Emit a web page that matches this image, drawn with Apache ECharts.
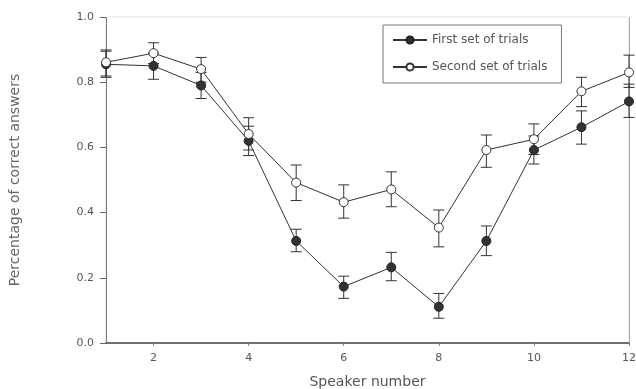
<!DOCTYPE html>
<html>
<head>
<meta charset="utf-8">
<script src="https://cdn.jsdelivr.net/npm/echarts@6/dist/echarts.min.js"></script>
<style>html,body{margin:0;padding:0;background:#fff;}#c{width:636px;height:389px;}</style>
</head>
<body>
<div id="c"></div>
<script>
const speakers = [1,2,3,4,5,6,7,8,9,10,11,12];
const xTicks = [2,4,6,8,10,12];
const first = [0.855,0.85,0.79,0.62,0.313,0.173,0.232,0.111,0.313,0.592,0.662,0.741];
const firstLow = [0.815,0.809,0.75,0.575,0.28,0.137,0.191,0.076,0.268,0.549,0.61,0.692];
const firstHigh = [0.895,0.89,0.83,0.665,0.349,0.205,0.278,0.152,0.359,0.635,0.712,0.794];
const second = [0.861,0.889,0.840,0.641,0.492,0.432,0.471,0.354,0.592,0.625,0.772,0.830];
const secondLow = [0.819,0.857,0.80,0.592,0.437,0.383,0.418,0.295,0.539,0.578,0.725,0.784];
const secondHigh = [0.899,0.921,0.876,0.691,0.546,0.485,0.525,0.408,0.638,0.672,0.815,0.883];
const names = ['First set of trials','Second set of trials'];

const FONT = 'DejaVu Sans';
const TXT = '#555';
const LINE = '#333';

function errData(low, high){ return speakers.map((x,i)=>[x, low[i], high[i]]); }
function renderErr(params, api){
  const x = api.value(0);
  const lo = api.coord([x, api.value(1)]);
  const hi = api.coord([x, api.value(2)]);
  const w = 5.5;
  const st = {stroke: LINE, lineWidth: 1};
  return {type:'group', children:[
    {type:'line', shape:{x1:lo[0],y1:lo[1],x2:hi[0],y2:hi[1]}, style:st},
    {type:'line', shape:{x1:lo[0]-w,y1:lo[1],x2:lo[0]+w,y2:lo[1]}, style:st},
    {type:'line', shape:{x1:hi[0]-w,y1:hi[1],x2:hi[0]+w,y2:hi[1]}, style:st}
  ]};
}

const chart = echarts.init(document.getElementById('c'), null, {renderer:'canvas'});
chart.setOption({
  animation:false,
  backgroundColor:'#fff',
  textStyle:{fontFamily:FONT},
  grid:{left:106, right:7, top:17, bottom:46, containLabel:false, outerBoundsMode:'none',
        show:true, borderColor:'#e4e4e4', borderWidth:1},
  legend:{
    data:names, orient:'vertical', left:383, top:25,
    padding:[9,14,10,9], itemGap:15, itemWidth:34, itemHeight:9,
    borderColor:'#777', borderWidth:1, backgroundColor:'#fff',
    textStyle:{fontFamily:FONT, fontSize:12, color:TXT}
  },
  xAxis:{
    type:'value', min:1, max:12,
    name:'Speaker number', nameLocation:'middle', nameGap:32,
    nameTextStyle:{fontFamily:FONT, fontSize:14, color:TXT},
    axisLine:{show:true, lineStyle:{color:'#444', width:1.5}},
    axisTick:{show:true, inside:false, length:3, customValues:xTicks, lineStyle:{color:'#888'}},
    axisLabel:{customValues:xTicks, margin:10, fontFamily:FONT, fontSize:11, color:TXT},
    splitLine:{show:false}
  },
  yAxis:[{
    type:'value', min:0, max:1, interval:0.2,
    name:'Percentage of correct answers', nameLocation:'middle', nameGap:84,
    nameTextStyle:{fontFamily:FONT, fontSize:14, color:'#666'},
    axisLine:{show:true, lineStyle:{color:'#666', width:1, type:'dotted'}},
    axisTick:{show:true, length:6, lineStyle:{color:'#666'}},
    axisLabel:{margin:12, fontFamily:FONT, fontSize:11, color:TXT, formatter:v=>v.toFixed(1)},
    splitLine:{show:false}
  },{
    type:'value', min:0, max:1, position:'right',
    axisLine:{show:true, lineStyle:{color:'#999', width:1, type:'dotted'}},
    axisTick:{show:false}, axisLabel:{show:false}, splitLine:{show:false}
  }],
  series:[
    {type:'custom', name:'err1', renderItem:renderErr, data:errData(firstLow,firstHigh), z:1, silent:true},
    {type:'custom', name:'err2', renderItem:renderErr, data:errData(secondLow,secondHigh), z:1, silent:true},
    {type:'line', name:names[0], data:speakers.map((x,i)=>[x, first[i]]), symbol:'circle', symbolSize:9,
     lineStyle:{color:LINE, width:1}, itemStyle:{color:'#333', borderColor:'#222', borderWidth:1}, z:3},
    {type:'line', name:names[1], data:speakers.map((x,i)=>[x, second[i]]), symbol:'circle', symbolSize:9,
     lineStyle:{color:LINE, width:1}, itemStyle:{color:'#fff', borderColor:'#333', borderWidth:1}, z:4}
  ]
});
</script>
</body>
</html>
